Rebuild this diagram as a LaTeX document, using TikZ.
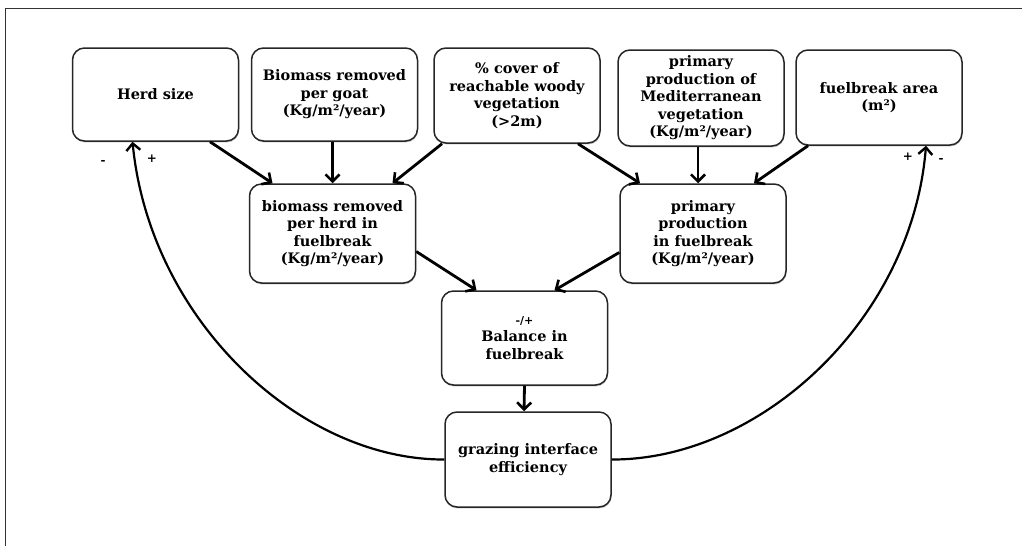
\documentclass[tikz,border=0pt]{standalone}
\usepackage{fontspec}
\setmainfont{DejaVu Serif}
\usetikzlibrary{arrows.meta,shadows,calc}
\tikzset{
  box/.style={draw=black!85, line width=1.5pt, rounded corners=12pt, fill=white,
    align=center, font=\bfseries\fontsize{14.5}{17.5}\selectfont,
    inner sep=1pt, minimum width=166pt,
    drop shadow={shadow xshift=0.5pt, shadow yshift=-1.4pt, opacity=0.5}},
  conn/.style={line width=2.8pt, -{Straight Barb[length=7pt,width=14pt,line width=2.6pt]}},
  loop/.style={line width=2.2pt, -{Straight Barb[length=7pt,width=14pt,line width=2.4pt]}},
  sign/.style={font=\bfseries\fontsize{12}{13}\selectfont, inner sep=0pt}
}
\begin{document}
\begin{tikzpicture}[x=1pt,y=-1pt]
\useasboundingbox (0,0) rectangle (1022,546);
\coordinate (fa) at (5,546);
\coordinate (fb) at (5,8);
\coordinate (fc) at (1022,8);
\draw[line width=1pt, black!80] (fa) -- (fb) -- (fc);

\node[box, minimum height=93pt] (herd) at (155.5,94.5) {Herd size};
\node[box, minimum height=93pt] (goat) at (334.5,94.5) {Biomass removed\\per\,\,goat\\(Kg/m²/year)};
\node[box, minimum height=95pt] (cover) at (517,95.5) {\% cover of\\reachable woody\\vegetation\\(>2m)};
\node[box, minimum height=96pt] (med) at (701,98) {primary\\production of\\Mediterranean\\vegetation\\(Kg/m²/year)};
\node[box, minimum height=95pt] (area) at (879,97.5) {fuelbreak area\\(m²)};
\node[box, minimum height=99pt] (perherd) at (332.5,233.5) {biomass removed\\per herd in\\fuelbreak\\(Kg/m²/year)};
\node[box, minimum height=99pt] (prodfb) at (703,233.5) {primary\\production\\in fuelbreak\\(Kg/m²/year)};
\node[box, minimum height=94pt] (balance) at (524.5,338) {{\fontsize{11}{13}\selectfont -/+}\\Balance in\\fuelbreak};
\node[box, minimum height=95pt] (graze) at (528,459.5) {grazing interface\\efficiency};

\draw[conn] ([xshift=54.5pt]herd.south) -- ([xshift=-60pt]perherd.north);
\draw[conn] ([xshift=-2pt]goat.south) -- (perherd.north);
\draw[conn] ([xshift=-75pt]cover.south) -- ([xshift=60pt]perherd.north);
\draw[conn] ([xshift=61pt]cover.south) -- ([xshift=-63pt]prodfb.north);
\draw[conn] ([xshift=-3pt]med.south) -- ([xshift=-5pt]prodfb.north);
\draw[conn] ([xshift=-71pt]area.south) -- ([xshift=51pt]prodfb.north);
\draw[conn] ([yshift=-18pt]perherd.east) -- ([xshift=-48pt]balance.north);
\draw[conn] ([yshift=-19pt]prodfb.west) -- ([xshift=30pt]balance.north);
\draw[conn] ([xshift=0pt]balance.south) -- ([xshift=-4pt]graze.north);

\draw[loop] (graze.west) .. controls (300,460) and (150,320) .. ([xshift=-23pt]herd.south);
\draw[loop] (graze.east) .. controls (760,460) and (912,320) .. ([xshift=47pt]area.south);

\node[sign] (s1) at (103,162) {-};
\node[sign] (s2) at (152,159) {+};
\node[sign] (s3) at (908,157) {+};
\node[sign] (s4) at (941,160) {-};
\end{tikzpicture}
\end{document}
